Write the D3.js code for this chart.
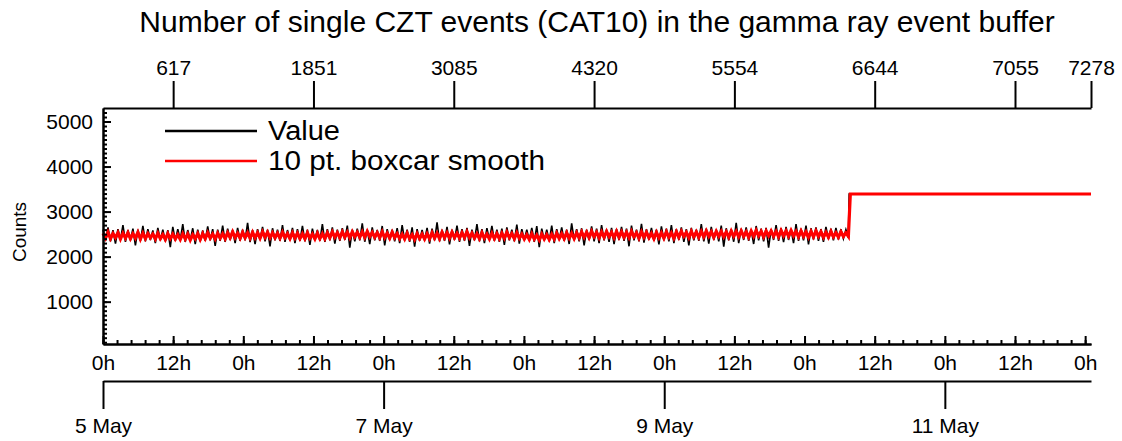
<!DOCTYPE html>
<html>
<head>
<meta charset="utf-8">
<script src="https://cdn.jsdelivr.net/npm/d3@7"></script>
<style>
  body { margin: 0; background: #fff; }
  svg { display: block; font-family: "Liberation Sans", Arial, Helvetica, sans-serif; }
  .axis path, .axis line { stroke: #000; stroke-width: 2; }
  .axis text { font-size: 21px; fill: #000; }
</style>
</head>
<body>
<script>
;(function () {
  // noisy part: evenly sampled from seriesStart to noisyEnd
  const seriesStart = Date.UTC(2013, 4, 5, 0, 0)
  const noisyEnd = Date.UTC(2013, 4, 10, 7, 30)
  const seriesEnd = Date.UTC(2013, 4, 12, 1, 0)

  const valueCounts = [
    2600, 2350, 2650, 2340, 2590, 2290, 2610, 2370, 2700, 2330,
    2590, 2360, 2620, 2250, 2600, 2350, 2680, 2340, 2610, 2370,
    2580, 2300, 2640, 2360, 2600, 2340, 2590, 2210, 2660, 2350,
    2610, 2370, 2720, 2330, 2590, 2360, 2630, 2280, 2600, 2340,
    2580, 2350, 2670, 2360, 2610, 2240, 2600, 2350, 2690, 2330,
    2620, 2370, 2590, 2300, 2640, 2350, 2600, 2360, 2750, 2320,
    2590, 2280, 2610, 2370, 2660, 2340, 2600, 2230, 2630, 2360,
    2600, 2350, 2700, 2330, 2590, 2360, 2640, 2300, 2610, 2350,
    2680, 2340, 2600, 2260, 2620, 2370, 2590, 2350, 2720, 2330,
    2610, 2360, 2650, 2290, 2600, 2350, 2630, 2370, 2690, 2200,
    2600, 2340, 2620, 2360, 2740, 2330, 2600, 2280, 2650, 2360,
    2590, 2350, 2680, 2250, 2610, 2370, 2600, 2340, 2630, 2300,
    2700, 2360, 2600, 2330, 2650, 2220, 2610, 2350, 2590, 2360,
    2640, 2290, 2620, 2360, 2760, 2340, 2600, 2350, 2660, 2270,
    2600, 2370, 2690, 2330, 2610, 2350, 2640, 2240, 2600, 2360,
    2720, 2340, 2610, 2300, 2630, 2370, 2680, 2350, 2600, 2330,
    2620, 2260, 2650, 2360, 2600, 2340, 2710, 2290, 2610, 2370,
    2600, 2350, 2640, 2330, 2680, 2210, 2620, 2360, 2600, 2340,
    2690, 2300, 2610, 2370, 2650, 2350, 2600, 2280, 2740, 2360,
    2610, 2340, 2630, 2250, 2600, 2370, 2670, 2340, 2620, 2300,
    2700, 2360, 2600, 2330, 2640, 2280, 2610, 2370, 2660, 2350,
    2620, 2230, 2690, 2360, 2600, 2340, 2730, 2310, 2610, 2370,
    2640, 2350, 2600, 2270, 2670, 2360, 2620, 2340, 2700, 2300,
    2610, 2370, 2650, 2330, 2610, 2250, 2640, 2360, 2600, 2350,
    2720, 2340, 2620, 2290, 2660, 2370, 2600, 2340, 2690, 2220,
    2630, 2360, 2610, 2330, 2750, 2300, 2620, 2370, 2650, 2350,
    2600, 2280, 2680, 2360, 2620, 2340, 2640, 2200, 2610, 2370,
    2700, 2350, 2630, 2320, 2660, 2370, 2610, 2300, 2720, 2350,
    2620, 2360, 2690, 2270, 2630, 2380, 2650, 2350, 2610, 2330,
    2660, 2390, 2620, 2360, 2640, 2380, 2610, 2400, 2600, 2420,
  ]

  const smoothCounts = [
    2520, 2410, 2540, 2400, 2510, 2420, 2530, 2390, 2520, 2410,
    2530, 2400, 2510, 2410, 2540, 2390, 2520, 2400, 2510, 2420,
    2500, 2390, 2520, 2400, 2490, 2380, 2510, 2400, 2500, 2390,
    2490, 2380, 2510, 2390, 2500, 2370, 2490, 2400, 2510, 2380,
    2510, 2400, 2530, 2410, 2500, 2390, 2520, 2410, 2510, 2400,
    2530, 2420, 2550, 2420, 2520, 2410, 2540, 2420, 2530, 2410,
    2540, 2420, 2530, 2410, 2550, 2430, 2540, 2420, 2530, 2420,
    2520, 2410, 2540, 2420, 2510, 2400, 2530, 2410, 2520, 2400,
    2510, 2400, 2530, 2410, 2500, 2390, 2520, 2400, 2510, 2400,
    2530, 2420, 2550, 2430, 2530, 2420, 2550, 2430, 2540, 2420,
    2550, 2440, 2540, 2430, 2550, 2430, 2560, 2440, 2540, 2430,
    2530, 2420, 2550, 2420, 2520, 2410, 2540, 2420, 2510, 2400,
    2500, 2390, 2520, 2400, 2490, 2380, 2510, 2400, 2500, 2390,
    2510, 2400, 2530, 2410, 2520, 2400, 2540, 2420, 2530, 2410,
    2540, 2420, 2520, 2410, 2530, 2420, 2550, 2420, 2520, 2410,
    2510, 2400, 2530, 2410, 2500, 2390, 2520, 2400, 2510, 2400,
    2520, 2410, 2540, 2420, 2510, 2400, 2530, 2410, 2500, 2390,
    2490, 2380, 2510, 2390, 2480, 2370, 2500, 2390, 2490, 2380,
    2500, 2390, 2520, 2400, 2510, 2400, 2530, 2410, 2520, 2400,
    2530, 2420, 2550, 2430, 2540, 2420, 2560, 2440, 2540, 2420,
    2550, 2430, 2560, 2440, 2540, 2420, 2560, 2430, 2550, 2430,
    2540, 2420, 2560, 2440, 2530, 2410, 2550, 2430, 2540, 2420,
    2520, 2400, 2540, 2420, 2530, 2410, 2550, 2430, 2530, 2410,
    2550, 2430, 2560, 2450, 2540, 2420, 2560, 2440, 2550, 2430,
    2560, 2440, 2570, 2450, 2550, 2430, 2560, 2450, 2560, 2440,
    2550, 2430, 2570, 2450, 2560, 2440, 2570, 2450, 2550, 2430,
    2570, 2450, 2580, 2460, 2560, 2440, 2570, 2460, 2570, 2450,
    2560, 2440, 2580, 2460, 2570, 2450, 2580, 2460, 2560, 2440,
    2570, 2450, 2550, 2430, 2560, 2440, 2570, 2450, 2550, 2430,
    2540, 2430, 2560, 2440, 2530, 2430, 2550, 2450, 2530, 2450,
  ]

  // after the jump the buffer count is flat
  const stepTimes = [Date.UTC(2013, 4, 10, 7, 38), seriesEnd]
  const stepCounts = [3390, 3390]
  const smoothStepTimes = [Date.UTC(2013, 4, 10, 7, 50), seriesEnd]

  // top axis: packet index at noon each day, and at the end
  const indexTickTimes = [
    Date.UTC(2013, 4, 5, 12), Date.UTC(2013, 4, 6, 12), Date.UTC(2013, 4, 7, 12),
    Date.UTC(2013, 4, 8, 12), Date.UTC(2013, 4, 9, 12), Date.UTC(2013, 4, 10, 12),
    Date.UTC(2013, 4, 11, 12), seriesEnd,
  ]
  const indexTickLabels = ['617', '1851', '3085', '4320', '5554', '6644', '7055', '7278']
  const dateTicks = [Date.UTC(2013, 4, 5), Date.UTC(2013, 4, 7), Date.UTC(2013, 4, 9), Date.UTC(2013, 4, 11)]
  const countTicks = [1000, 2000, 3000, 4000, 5000]

  const width = 1122
  const height = 441
  const left = 103
  const right = 1091
  const top = 108
  const bottom = 344

  const svg = d3.select('body').append('svg').attr('width', width).attr('height', height)

  const x = d3.scaleUtc().domain([seriesStart, seriesEnd]).range([left, right])
  const y = d3.scaleLinear().domain([60, 5300]).range([bottom, top])

  const sampleTime = d3.scaleLinear().domain([0, valueCounts.length - 1]).range([seriesStart, noisyEnd])
  const valueData = valueCounts.map((v, i) => [sampleTime(i), v])
    .concat(stepTimes.map((t, i) => [t, stepCounts[i]]))
  const smoothData = smoothCounts.map((v, i) => [sampleTime(i), v])
    .concat(smoothStepTimes.map((t, i) => [t, stepCounts[i]]))

  const line = d3.line().x((d) => x(d[0])).y((d) => y(d[1]))

  svg.append('path').datum(valueData).attr('d', line)
    .attr('fill', 'none').attr('stroke', '#000').attr('stroke-width', 1.6)
  svg.append('path').datum(smoothData).attr('d', line)
    .attr('fill', 'none').attr('stroke', '#ff0000').attr('stroke-width', 3.2)

  // left axis, ticks pointing inward
  svg.append('g').attr('class', 'axis').attr('transform', `translate(${left},0)`)
    .call(d3.axisLeft(y).tickValues(d3.range(100, 5300, 100)).tickSize(-4).tickSizeOuter(0).tickFormat(''))
  svg.append('g').attr('class', 'axis').attr('transform', `translate(${left},0)`)
    .call(d3.axisLeft(y).tickValues(countTicks).tickSize(-8).tickSizeOuter(0).tickPadding(10)
      .tickFormat(d3.format('d')))

  // hours axis
  const minorHours = d3.range(0, 170, 2.4).map((h) => seriesStart + h * 3600e3)
  const halfDays = d3.range(0, 15).map((k) => seriesStart + k * 12 * 3600e3)
  svg.append('g').attr('class', 'axis').attr('transform', `translate(0,${bottom})`)
    .call(d3.axisBottom(x).tickValues(minorHours).tickSize(-4).tickSizeOuter(0).tickFormat(''))
  svg.append('g').attr('class', 'axis').attr('transform', `translate(0,${bottom})`)
    .call(d3.axisBottom(x).tickValues(halfDays).tickSize(-8).tickSizeOuter(0).tickPadding(11)
      .tickFormat((d) => d3.utcFormat('%-H')(d) + 'h'))

  // date axis
  svg.append('g').attr('class', 'axis').attr('transform', 'translate(0,381)')
    .call(d3.axisBottom(x).tickValues(dateTicks).tickSize(28).tickSizeOuter(0).tickPadding(9)
      .tickFormat(d3.utcFormat('%-d %B')))

  // top axis with packet index
  svg.append('g').attr('class', 'axis').attr('transform', `translate(0,${top})`)
    .call(d3.axisTop(x).tickValues(indexTickTimes).tickSize(27).tickSizeOuter(0).tickPadding(6)
      .tickFormat((d, i) => indexTickLabels[i]))

  svg.append('text').attr('x', 597).attr('y', 32).attr('text-anchor', 'middle')
    .attr('font-size', 30).text('Number of single CZT events (CAT10) in the gamma ray event buffer')

  svg.append('text').attr('transform', 'translate(26,232) rotate(-90)').attr('text-anchor', 'middle')
    .attr('font-size', 19).text('Counts')

  const legend = [
    { label: 'Value', color: '#000', w: 2.5, len: 72 },
    { label: '10 pt. boxcar smooth', color: '#ff0000', w: 2.5, len: 277 },
  ]
  const lg = svg.append('g').selectAll('g').data(legend).enter().append('g')
    .attr('transform', (d, i) => `translate(165,${131 + i * 30})`)
  lg.append('line').attr('x1', 0).attr('x2', 92)
    .attr('stroke', (d) => d.color).attr('stroke-width', (d) => d.w)
  lg.append('text').attr('x', 103).attr('y', 9).attr('font-size', 27)
    .attr('textLength', (d) => d.len).attr('lengthAdjust', 'spacingAndGlyphs')
    .text((d) => d.label)
})()
</script>
</body>
</html>
